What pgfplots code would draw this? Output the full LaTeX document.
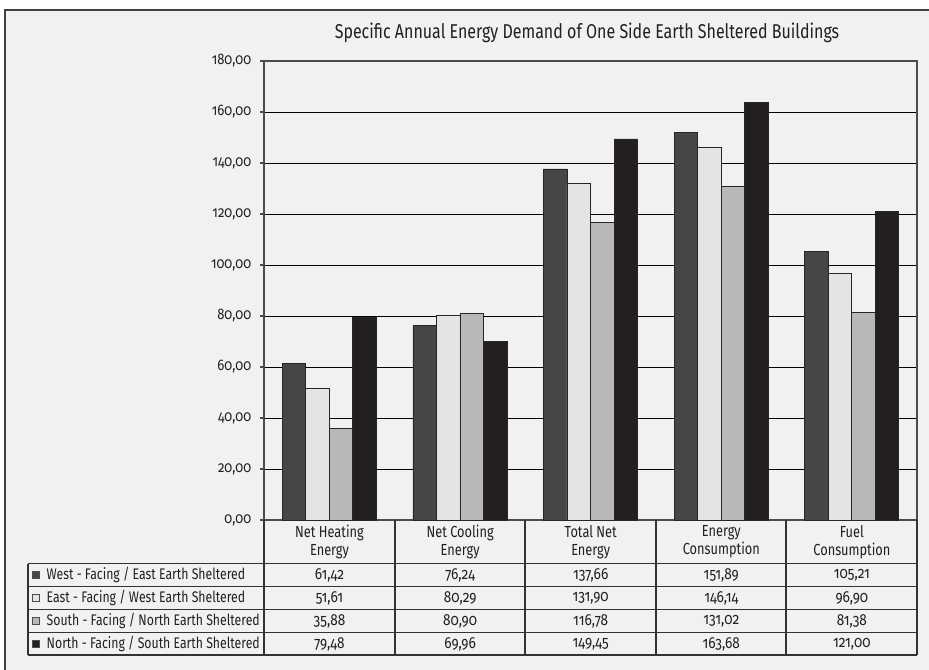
\documentclass[border=0pt]{standalone}
\usepackage{pgfplots}
\pgfplotsset{compat=1.18}
\usepackage{pgfplotstable}
\usepackage{fontspec}
\setmainfont{Fira Sans}[Numbers=OldStyle, FakeStretch=0.8]
\newfontfamily\titlefont{Fira Sans}[FakeStretch=0.8]
\newfontfamily\numfont{Fira Sans}[Numbers=OldStyle, FakeStretch=0.85]
\definecolor{cWest}{HTML}{464648}
\definecolor{cEast}{HTML}{E4E4E6}
\definecolor{cSouth}{HTML}{B8B8BA}
\definecolor{cNorth}{HTML}{231F20}
\definecolor{bgc}{HTML}{F1F1F1}
\definecolor{txt}{HTML}{231F20}

\pgfplotstableread{
cat West East South North
0 61.42 51.61 35.88 79.48
1 76.24 80.29 80.90 69.96
2 137.66 131.90 116.78 149.45
3 151.89 146.14 131.02 163.68
4 105.21 96.90 81.38 121.00
}\data

\begin{document}
\begin{tikzpicture}
\begin{scope}[x=0.75pt,y=-0.75pt]
\path[use as bounding box] (0,0) rectangle (929,670);
\fill[bgc] (5,10) rectangle (929,670);
\draw[black!75, line width=0.9pt] (5,670) -- (5,10) -- (929,10);
\node[font=\titlefont\fontsize{15}{18}\selectfont, text=txt] at (587,33) {Specific Annual Energy Demand of One Side Earth Sheltered Buildings};
\end{scope}

\begin{axis}[
  at={(198pt,-390pt)}, anchor=south west,
  scale only axis, width=489.75pt, height=344.25pt,
  xmin=-0.5, xmax=4.5, ymin=0, ymax=180,
  ytick={0,20,...,180}, xtick=\empty, ytick pos=left,
  ybar=0pt, bar width=0.18,
  ymajorgrids, grid style={black, line width=0.7pt},
  axis background/.style={fill=bgc},
  tick align=outside, major tick length=3pt,
  ytick style={black!70, line width=0.8pt},
  /pgf/number format/fixed, /pgf/number format/fixed zerofill,
  /pgf/number format/precision=2, /pgf/number format/use comma,
  /pgf/number format/assume math mode=true,
  yticklabel style={font=\numfont\fontsize{11.5}{13}\selectfont, text=txt, xshift=-3pt},
  axis line style={black!70, line width=1.2pt},
]
\addplot[fill=cWest, draw=black!85, line width=0.5pt] table[x=cat,y=West]{\data};
\addplot[fill=cEast, draw=black!85, line width=0.5pt] table[x=cat,y=East]{\data};
\addplot[fill=cSouth, draw=black!85, line width=0.5pt] table[x=cat,y=South]{\data};
\addplot[fill=cNorth, draw=black!85, line width=0.5pt] table[x=cat,y=North]{\data};
\end{axis}

\begin{scope}[x=0.75pt,y=-0.75pt]
\foreach \yy in {563.5,586.5,609.5,632.5,655} \draw[black!80, line width=0.8pt] (28,\yy) -- (917,\yy);
\foreach \xx in {264,395,525,656,786,917} \draw[black!80, line width=0.8pt] (\xx,520) -- (\xx,655);
\draw[black!80, line width=0.8pt] (28,563.5) -- (28,655);
\foreach \lab [count=\c from 0] in {{Net Heating\\Energy},{Net Cooling\\Energy},{Total Net\\Energy},{Energy\\Consumption},{Fuel\\Consumption}}
  \node[align=center, text=txt, font=\fontsize{12}{13.5}\selectfont] at ({329.5+130.6*\c},542) {\lab};
\foreach \col/\nm [count=\r from 0] in {cWest/{West - Facing / East Earth Sheltered}, cEast/{East - Facing / West Earth Sheltered}, cSouth/{South - Facing / North Earth Sheltered}, cNorth/{North - Facing / South Earth Sheltered}} {
  \filldraw[fill=\col, draw=black!70, line width=0.4pt] (32,{571.5+23*\r}) rectangle (39,{578.5+23*\r});
  \node[anchor=west, text=txt, font=\fontsize{11.5}{13}\selectfont] at (42,{575+23*\r}) {\nm};
}
\foreach \c in {0,...,4} {
  \foreach \s [count=\r from 0] in {West,East,South,North} {
    \pgfplotstablegetelem{\c}{\s}\of\data
    \node[text=txt, font=\numfont\fontsize{12}{13}\selectfont] at ({329.5+130.6*\c},{575+23*\r}) {\pgfmathprintnumber[fixed,fixed zerofill,precision=2,use comma,assume math mode=true]{\pgfplotsretval}};
  }
}
\end{scope}
\end{tikzpicture}
\end{document}
